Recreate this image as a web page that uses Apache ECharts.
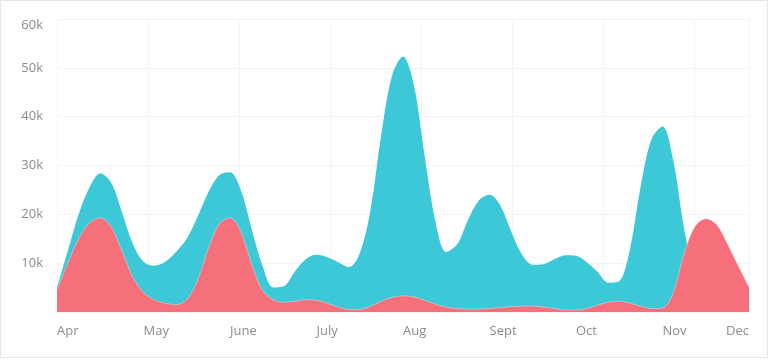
<!DOCTYPE html>
<html>
<head>
<meta charset="utf-8">
<script src="https://cdn.jsdelivr.net/npm/echarts@6/dist/echarts.min.js"></script>
<style>
html,body{margin:0;padding:0;background:#fff;}
#c{width:770px;height:360px;}
</style>
</head>
<body>
<div id="c"></div>
<script>
// Month tick labels (positions 0..8 on the x axis)
var monthLabels = ['Apr','May','June','July','Aug','Sept','Oct','Nov','Dec'];
// Y tick values (k)
var yTicks = [0, 10, 20, 30, 40, 50, 60];
// Samples per month (values below are read every 1/8 month, Apr..Dec)
var samplesPerMonth = 8;

// Cyan series values (thousands)
var cyanValues = [
  5, 12.5, 20, 25.5, 28.4, 26.5, 20.5, 14,
  10.3, 9.5, 10.3, 12.3, 15, 19.5, 24.5, 28,
  28.6, 25, 17, 9.5, 5, 5.3, 8.3, 10.8,
  11.7, 11.2, 10.2, 9.2, 12, 21, 36.5, 48.5,
  52.3, 46.5, 32, 18.5, 12.3, 13.8, 18.8, 22.8,
  24, 21.8, 16.5, 11.8, 9.7, 9.8, 10.8, 11.6,
  11.5, 10.2, 8.2, 6, 6.3, 13, 26, 35.5,
  38, 31, 17, 7.5, 2.5, 0.5, 0, 0,
  0
];
// Red series values (thousands)
var redValues = [
  4.5, 10, 15, 18.2, 19.3, 17.5, 12.5, 7.2,
  4, 2.5, 1.8, 1.5, 2.5, 6.5, 13, 18,
  19.3, 16.5, 9.8, 4.5, 2.5, 2, 2.2, 2.5,
  2.4, 1.8, 1, 0.5, 0.5, 1.2, 2.2, 3,
  3.3, 3.1, 2.4, 1.6, 1, 0.7, 0.6, 0.6,
  0.7, 0.9, 1.1, 1.2, 1.2, 1, 0.7, 0.4,
  0.4, 0.7, 1.4, 2, 2.2, 1.8, 1.2, 0.7,
  0.8, 4, 12, 17.5, 19.1, 17.9, 14, 9.5,
  5.1
];

function toPairs(vals) {
  return vals.map(function (v, i) { return [i / samplesPerMonth, v]; });
}

var chart = echarts.init(document.getElementById('c'));
var font = '"Open Sans", "Noto Sans", sans-serif';
chart.setOption({
  animation: false,
  graphic: [{
    type: 'rect', z: -10, silent: true,
    shape: {x: 0.5, y: 0.5, width: 767, height: 357},
    style: {fill: 'none', stroke: '#e6e6e6', lineWidth: 1}
  }],
  grid: {left: 57, right: 21, top: 19, bottom: 48, containLabel: false},
  xAxis: [{
    type: 'value', min: 0, max: monthLabels.length - 1, interval: 1,
    axisLine: {show: false}, axisTick: {show: false}, splitLine: {show: false},
    axisLabel: {
      color: '#8c8c8c', fontFamily: font, fontSize: 13, margin: 13,
      align: 'left', alignMaxLabel: 'right',
      formatter: function (v) { return monthLabels[Math.round(v)] || ''; }
    }
  }, {
    type: 'value', min: 0, max: 692 / 91, interval: 1, position: 'bottom',
    axisLine: {show: false}, axisTick: {show: false}, axisLabel: {show: false},
    splitLine: {show: true, lineStyle: {color: '#f3f3f3', width: 1}}
  }],
  yAxis: {
    type: 'value', min: yTicks[0], max: yTicks[yTicks.length - 1], interval: 10,
    axisLine: {show: false}, axisTick: {show: false},
    splitLine: {show: true, lineStyle: {color: '#f3f3f3', width: 1}},
    axisLabel: {
      color: '#8c8c8c', fontFamily: font, fontSize: 13, margin: 14,
      verticalAlignMaxLabel: 'top',
      formatter: function (v) { return v === 0 ? '' : v + 'k'; }
    }
  },
  series: [{
    type: 'line', xAxisIndex: 0, data: toPairs(cyanValues), smooth: 0.33, smoothConstraint: false, showSymbol: false,
    lineStyle: {width: 0}, areaStyle: {color: '#3cc8d6', opacity: 1}, z: 2
  }, {
    type: 'line', xAxisIndex: 0, data: toPairs(redValues), smooth: 0.33, smoothConstraint: false, showSymbol: false,
    lineStyle: {width: 1, color: 'rgba(255,255,255,0.35)'}, areaStyle: {color: '#f6707b', opacity: 1}, z: 3
  }]
});
</script>
</body>
</html>
